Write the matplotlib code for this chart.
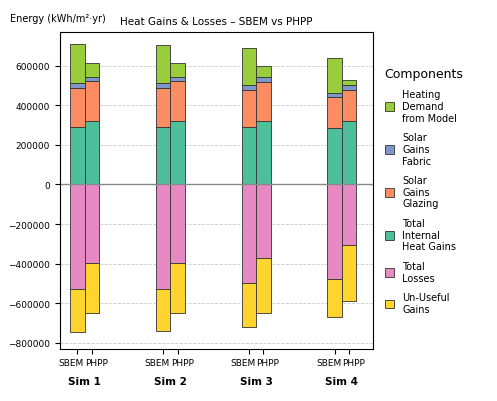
import numpy as np
import matplotlib.pyplot as plt

sims = ['Sim 1', 'Sim 2', 'Sim 3', 'Sim 4']
# stacked tops, split into components
internal_sbem = [290000, 290000, 290000, 284000]
glazing_sbem = [196000, 196000, 186000, 156000]
fabric_sbem = [25000, 25000, 25000, 21000]
heating_sbem = [198000, 193000, 188000, 177000]
losses_sbem = [-526000, -526000, -500000, -476000]
unuseful_sbem = [-218000, -212000, -222000, -192000]

internal_phpp = [319000, 319000, 319000, 319000]
glazing_phpp = [202000, 202000, 200000, 157000]
fabric_phpp = [21000, 21000, 22000, 24000]
heating_phpp = [71000, 71000, 56000, 27000]
losses_phpp = [-395000, -395000, -370000, -304000]
unuseful_phpp = [-253000, -253000, -280000, -286000]

colors = {'heat': '#9acd3c', 'fabric': '#7f96c8', 'glaz': '#fc8d62',
          'int': '#4dbf9a', 'loss': '#e78ac3', 'unu': '#ffd42f'}

fig, ax = plt.subplots(figsize=(4.97, 4.02), dpi=100)
fig.subplots_adjust(left=0.12, right=0.75, top=0.918, bottom=0.13)

x = np.arange(len(sims))
w = 0.17
kw = dict(width=w, edgecolor='#333333', linewidth=0.6)

def stack(pos, inte, glaz, fab, heat, loss, unu, lab):
    inte, glaz, fab, heat = map(np.array, (inte, glaz, fab, heat))
    loss, unu = np.array(loss), np.array(unu)
    ax.bar(pos, inte, color=colors['int'], label='Total\nInternal\nHeat Gains' if lab else None, **kw)
    ax.bar(pos, glaz, bottom=inte, color=colors['glaz'], label='Solar\nGains\nGlazing' if lab else None, **kw)
    ax.bar(pos, fab, bottom=inte + glaz, color=colors['fabric'], label='Solar\nGains\nFabric' if lab else None, **kw)
    ax.bar(pos, heat, bottom=inte + glaz + fab, color=colors['heat'], label='Heating\nDemand\nfrom Model' if lab else None, **kw)
    ax.bar(pos, loss, color=colors['loss'], label='Total\nLosses' if lab else None, **kw)
    ax.bar(pos, unu, bottom=loss, color=colors['unu'], label='Un-Useful\nGains' if lab else None, **kw)

stack(x - w / 2, internal_sbem, glazing_sbem, fabric_sbem, heating_sbem, losses_sbem, unuseful_sbem, True)
stack(x + w / 2, internal_phpp, glazing_phpp, fabric_phpp, heating_phpp, losses_phpp, unuseful_phpp, False)

ax.axhline(0, color='#888888', linewidth=1)
ax.yaxis.grid(True, linestyle='--', color='#cccccc', linewidth=0.6)
ax.set_axisbelow(True)
ax.set_xlim(-0.29, 3.36)
ax.set_ylim(-830000, 770000)
ax.set_yticks(np.arange(-800000, 700000, 200000))
ax.tick_params(labelsize=6.5)

pos = np.concatenate([x - w / 2, x + w / 2])
ax.set_xticks(pos)
labels = ax.set_xticklabels(['SBEM'] * 4 + ['PHPP'] * 4, fontsize=6.5)
for i, t in enumerate(labels):
    t.set_ha('center')
    t.set_x(pos[i])
for xi, s in zip(x, sims):
    ax.text(xi, -0.085, s, transform=ax.get_xaxis_transform(), ha='center', va='top',
            fontsize=7.5, fontweight='bold')
for xi in x:
    ax.text(xi - 0.005, -0.03, 'SBEM', transform=ax.get_xaxis_transform(), ha='right', va='top', fontsize=6.5)
    ax.text(xi + 0.005, -0.03, 'PHPP', transform=ax.get_xaxis_transform(), ha='left', va='top', fontsize=6.5)
ax.set_xticklabels([])

ax.set_title('Heat Gains & Losses – SBEM vs PHPP', fontsize=7.5)
fig.text(0.02, 0.945, 'Energy (kWh/m²·yr)', fontsize=7)

h, l = ax.get_legend_handles_labels()
order = [3, 2, 1, 0, 4, 5]
leg = ax.legend([h[i] for i in order], [l[i] for i in order], loc='center left',
                bbox_to_anchor=(1.01, 0.5), frameon=False, fontsize=7,
                title='Components', title_fontsize=9, labelspacing=1.0,
                handlelength=1.0, handleheight=1.0)
leg._legend_box.align = 'left'

plt.savefig('out.png', dpi=100)
